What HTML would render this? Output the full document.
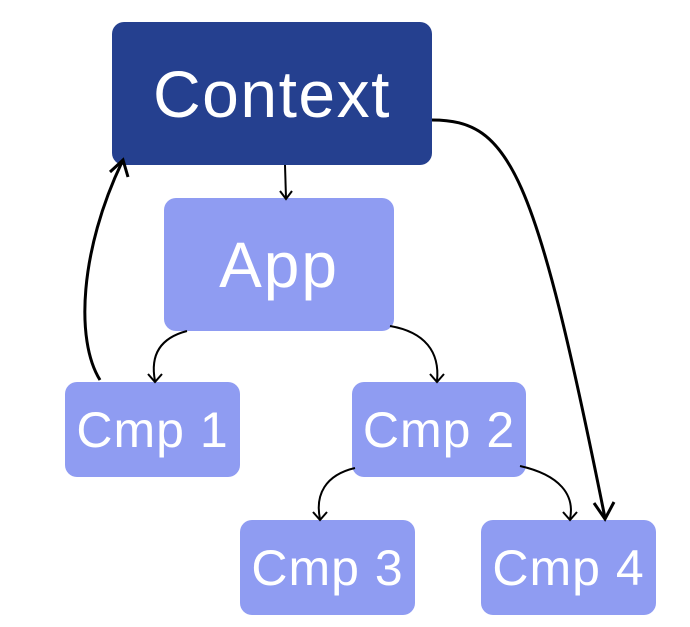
<!DOCTYPE html>
<html><head><style>
body{margin:0;background:#fff;width:690px;height:627px;overflow:hidden;font-family:"Liberation Sans",sans-serif}
.b{position:absolute;border-radius:12px;color:#fff;display:flex;align-items:center;justify-content:center;background:#8f9cf2}
</style></head><body>
<div class="b" style="left:112px;top:22px;width:320px;height:143px;background:#25408f;font-size:66px;letter-spacing:1.5px">Context</div>
<div class="b" style="left:164px;top:198px;width:230px;height:133px;font-size:64px;letter-spacing:2px">App</div>
<div class="b" style="left:65px;top:382px;width:175px;height:95px;font-size:50px;letter-spacing:1px">Cmp 1</div>
<div class="b" style="left:352px;top:382px;width:174px;height:95px;font-size:50px;letter-spacing:1px">Cmp 2</div>
<div class="b" style="left:240px;top:520px;width:175px;height:95px;font-size:50px;letter-spacing:1px">Cmp 3</div>
<div class="b" style="left:481px;top:520px;width:175px;height:95px;font-size:50px;letter-spacing:1px">Cmp 4</div>
<svg width="690" height="627" style="position:absolute;left:0;top:0" fill="none" stroke="#000">
<g stroke-width="2">
<path d="M285 165 L286 198"/><path d="M280 191 L286 199 L292 191"/>
<path d="M187 331 C160 338 150 355 155 381"/><path d="M148 374 L155 382 L162 374"/>
<path d="M390 326 C425 332 440 352 437 381"/><path d="M430 374 L437 382 L444 374"/>
<path d="M355 468 C325 475 315 495 320 519"/><path d="M313 512 L320 520 L327 512"/>
<path d="M520 466 C560 475 575 495 570 519"/><path d="M563 512 L570 520 L577 512"/>
</g>
<g stroke-width="3">
<path d="M100 380 C75 340 80 250 122 162"/><path d="M110 172 L123 160 L128 177"/>
<path d="M432 120 C510 120 535 170 605 518"/><path d="M594 503 L605 519 L614 502"/>
</g>
</svg>
</body></html>
